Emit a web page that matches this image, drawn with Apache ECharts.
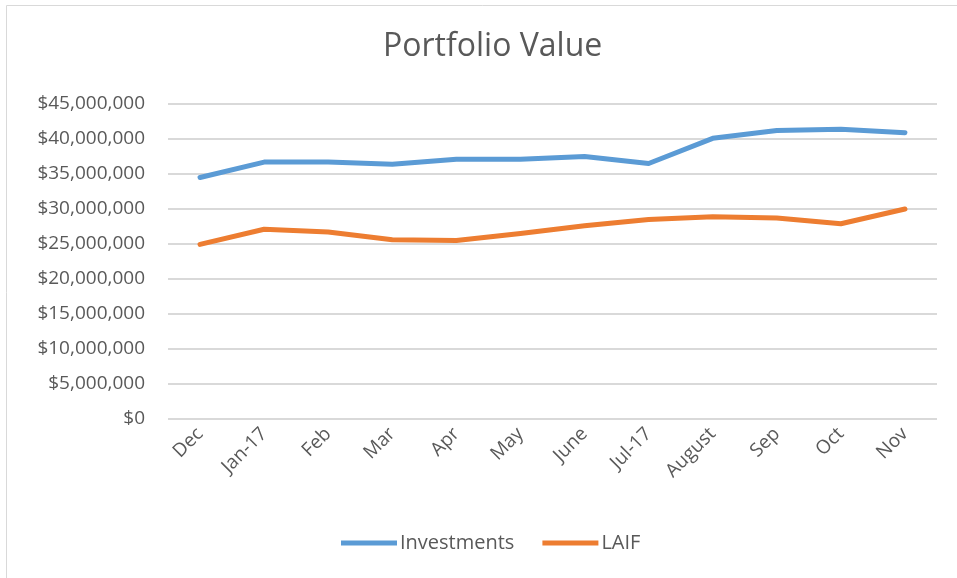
<!DOCTYPE html>
<html>
<head>
<meta charset="utf-8">
<script src="https://cdn.jsdelivr.net/npm/echarts@6/dist/echarts.min.js"></script>
<style>
  html, body { margin: 0; padding: 0; background: #fff; }
  #chart { width: 957px; height: 578px; }
</style>
</head>
<body>
<div id="chart"></div>
<script>
let months = ['Dec', 'Jan-17', 'Feb', 'Mar', 'Apr', 'May', 'June', 'Jul-17', 'August', 'Sep', 'Oct', 'Nov']
let investments = [34500000, 36700000, 36700000, 36400000, 37100000, 37100000, 37500000, 36500000, 40100000, 41200000, 41400000, 40900000]
let laif = [24950000, 27100000, 26700000, 25600000, 25500000, 26500000, 27600000, 28500000, 28900000, 28700000, 27900000, 30000000]

function money(v) {
  return '$' + v.toLocaleString('en-US')
}

let chart = echarts.init(document.getElementById('chart'))
let option = {
  animation: false,
  color: ['#5b9bd5', '#ed7d31'],
  textStyle: {
    fontFamily: 'Open Sans'
  },
  graphic: [
    {
      type: 'rect',
      shape: {x: 6.5, y: 5.5, width: 1000, height: 1000},
      style: {fill: 'none', stroke: '#d9d9d9', lineWidth: 1}
    }
  ],
  title: {
    text: 'Portfolio Value',
    left: 378,
    top: 26,
    textStyle: {
      color: '#595959',
      fontSize: 32,
      fontWeight: 'normal',
      fontFamily: 'Open Sans'
    }
  },
  legend: {
    bottom: 20,
    left: 336,
    itemWidth: 56,
    itemHeight: 5,
    itemGap: 28,
    icon: 'rect',
    textStyle: {
      color: '#595959',
      fontSize: 20,
      padding: [0, 0, 0, -2]
    },
    data: ['Investments', 'LAIF']
  },
  grid: {
    left: 168,
    right: 20,
    top: 104,
    bottom: 159
  },
  xAxis: {
    type: 'category',
    data: months,
    axisLine: {show: false},
    axisTick: {show: false},
    axisLabel: {
      rotate: 45,
      color: '#595959',
      fontSize: 19,
      margin: 12
    }
  },
  yAxis: {
    type: 'value',
    min: 0,
    max: 45000000,
    interval: 5000000,
    axisLine: {show: false},
    axisTick: {show: false},
    splitLine: {
      lineStyle: {color: '#d9d9d9', width: 2}
    },
    axisLabel: {
      color: '#595959',
      fontSize: 19,
      margin: 23,
      formatter: money
    }
  },
  series: [
    {
      name: 'Investments',
      type: 'line',
      symbol: 'none',
      lineStyle: {width: 5, cap: 'round', join: 'round'},
      data: investments
    },
    {
      name: 'LAIF',
      type: 'line',
      symbol: 'none',
      lineStyle: {width: 5, cap: 'round', join: 'round'},
      data: laif
    }
  ]
};
chart.setOption(option)
</script>
</body>
</html>
